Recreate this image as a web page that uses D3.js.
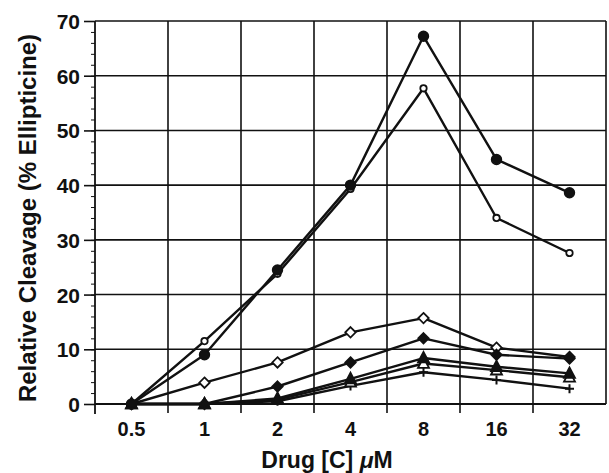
<!DOCTYPE html>
<html>
<head>
<meta charset="utf-8">
<script src="https://cdn.jsdelivr.net/npm/d3@7"></script>
<style>
    body { margin: 0; background: #fff; }
    svg { display: block; }
    .axis text { font-family: "Liberation Sans", Arial, Helvetica, sans-serif; font-weight: bold; fill: #111; }
    .axis path, .axis line { stroke: #111; }
    .label { font-family: "Liberation Sans", Arial, Helvetica, sans-serif; font-weight: bold; fill: #111; }
</style>
</head>
<body>
<div id="chart"></div>
<script>
var concentrations = ["0.5", "1", "2", "4", "8", "16", "32"];
var yTicks = [0, 10, 20, 30, 40, 50, 60, 70];
var yMinorTicks = d3.range(0, 71, 2);

var filledCircle   = [0, 9.0, 24.5, 40.0, 67.2, 44.7, 38.6];
var openCircle     = [0, 11.5, 23.8, 39.3, 57.7, 34.0, 27.6];
var openDiamond    = [0, 3.9, 7.6, 13.1, 15.7, 10.3, 8.6];
var filledDiamond  = [0, 0, 3.2, 7.6, 12.0, 9.0, 8.3];
var filledTriangle = [0, 0, 1.0, 4.6, 8.4, 6.8, 5.6];
var openTriangle   = [0, 0, 0.8, 4.0, 7.4, 6.2, 4.9];
var plusSeries     = [0, 0, 0.5, 3.3, 5.8, 4.4, 2.8];

// open markers first so the filled ones sit on top where they pile up
var series = [
    {values: plusSeries, shape: "plus", r: 4.5, fill: "none"},
    {values: openTriangle, shape: "triangle", r: 5.5, fill: "#fff"},
    {values: openDiamond, shape: "diamond", r: 5.2, fill: "#fff"},
    {values: openCircle, shape: "circle", r: 3.2, fill: "#fff"},
    {values: filledTriangle, shape: "triangle", r: 5.5, fill: "#111"},
    {values: filledDiamond, shape: "diamond", r: 5.2, fill: "#111"},
    {values: filledCircle, shape: "circle", r: 4.8, fill: "#111"}
];

var width = 609;
var height = 473;
var margin = {top: 21, right: 3, bottom: 69, left: 95};
var chartWidth = width - margin.left - margin.right;
var chartHeight = height - margin.top - margin.bottom;

var svg = d3.select("#chart").append("svg")
    .attr("width", width)
    .attr("height", height);

var g = svg.append("g")
    .attr("transform", "translate(" + margin.left + "," + margin.top + ")");

var xScale = d3.scaleBand()
    .domain(concentrations)
    .range([0, chartWidth]);

var yScale = d3.scaleLinear()
    .domain([0, 70])
    .range([chartHeight, 0]);

var bounds = concentrations.slice(1).map(function(c){ return xScale(c); });

// grid
g.append("g").attr("class", "grid")
    .selectAll("line.h")
    .data(yTicks.slice(1))
    .enter().append("line")
    .attr("x1", 0).attr("x2", chartWidth)
    .attr("y1", function(d){ return yScale(d); })
    .attr("y2", function(d){ return yScale(d); })
    .style("stroke", "#111").style("stroke-width", 1.6);

g.append("g").attr("class", "grid")
    .selectAll("line.v")
    .data(bounds.concat([chartWidth]))
    .enter().append("line")
    .attr("x1", function(d){ return d; })
    .attr("x2", function(d){ return d; })
    .attr("y1", 0)
    .attr("y2", function(d){ return d === chartWidth ? chartHeight : chartHeight + 9; })
    .style("stroke", "#111").style("stroke-width", 1.6);

// y axis
var yAxis = g.append("g")
    .attr("class", "axis")
    .call(d3.axisLeft(yScale).tickValues(yTicks).tickSize(11).tickPadding(4));
yAxis.select(".domain").remove();
yAxis.selectAll("text").style("font-size", "21px").attr("dy", "0.36em");
yAxis.selectAll("line").style("stroke-width", 1.6);

g.append("g")
    .attr("class", "axis")
    .call(d3.axisLeft(yScale).tickValues(yMinorTicks).tickSize(4).tickFormat(""))
    .select(".domain").remove();

g.append("line")
    .attr("x1", 0).attr("x2", 0)
    .attr("y1", 0).attr("y2", chartHeight + 10)
    .style("stroke", "#111").style("stroke-width", 1.8);

// x axis
var xAxis = g.append("g")
    .attr("class", "axis")
    .attr("transform", "translate(0," + chartHeight + ")")
    .call(d3.axisBottom(xScale).tickSize(0).tickPadding(18));
xAxis.select(".domain").remove();
xAxis.selectAll("text").style("font-size", "20px");

g.append("line")
    .attr("x1", 0).attr("x2", chartWidth)
    .attr("y1", chartHeight).attr("y2", chartHeight)
    .style("stroke", "#111").style("stroke-width", 1.8);

// titles
svg.append("text")
    .attr("class", "label")
    .attr("x", 327)
    .attr("y", 468)
    .attr("text-anchor", "middle")
    .style("font-size", "23px")
    .text("Drug [C] ")
    .append("tspan")
    .style("font-style", "italic")
    .text("\u03bc")
    .select(function(){ return this.parentNode; })
    .append("tspan")
    .text("M");

svg.append("text")
    .attr("class", "label")
    .attr("transform", "translate(36," + 218 + ") rotate(-90)")
    .attr("text-anchor", "middle")
    .style("font-size", "24px")
    .text("Relative Cleavage (% Ellipticine)");

// series
var line = d3.line()
    .defined(function(d){ return d != null; })
    .x(function(d, i){ return xScale(concentrations[i]) + xScale.bandwidth() / 2; })
    .y(function(d){ return yScale(d); });

function shapePath(shape, r) {
    if (shape === "diamond") return "M0," + (-r) + "L" + r + ",0L0," + r + "L" + (-r) + ",0Z";
    if (shape === "triangle") return "M0," + (-r * 1.1) + "L" + r + "," + (r * 0.8) + "L" + (-r) + "," + (r * 0.8) + "Z";
    if (shape === "plus") return "M" + (-r) + ",0L" + r + ",0M0," + (-r) + "L0," + r;
    return d3.symbol().type(d3.symbolCircle).size(Math.PI * r * r)();
}

var seriesG = g.selectAll("g.series")
    .data(series)
    .enter().append("g")
    .attr("class", "series");

seriesG.append("path")
    .attr("d", function(s){ return line(s.values); })
    .style("fill", "none")
    .style("stroke", "#111")
    .style("stroke-width", 2.4)
    .style("stroke-linejoin", "round");

seriesG.each(function(s){
    d3.select(this).selectAll("path.mark")
        .data(s.values)
        .enter().append("path")
        .attr("class", "mark")
        .attr("transform", function(d, i){
            return "translate(" + (xScale(concentrations[i]) + xScale.bandwidth() / 2) + "," + yScale(d) + ")";
        })
        .attr("d", shapePath(s.shape, s.r))
        .style("fill", s.fill)
        .style("stroke", "#111")
        .style("stroke-width", s.shape === "plus" ? 2 : 1.8);
});
</script>
</body>
</html>
